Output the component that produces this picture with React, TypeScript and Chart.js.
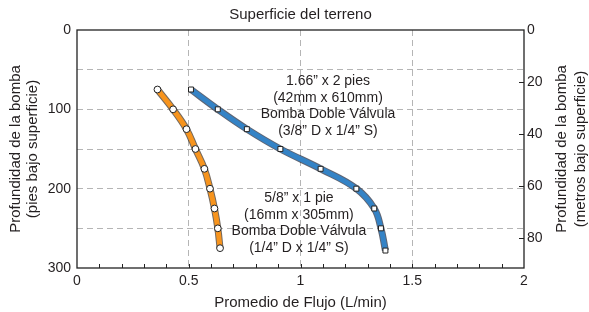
import React, { useEffect, useRef } from "react";
import { Chart, registerables } from "chart.js";

Chart.register(...registerables);

// ---- data ----
const FLOW_SMALL = [0.36, 0.43, 0.49, 0.53, 0.57, 0.595, 0.615, 0.63, 0.64];
const DEPTH_SMALL = [75, 100, 125, 150, 175, 200, 225, 250, 275];
const FLOW_LARGE = [0.51, 0.63, 0.76, 0.91, 1.09, 1.25, 1.33, 1.36, 1.38];
const DEPTH_LARGE = [75, 100, 125, 150, 175, 200, 225, 250, 278];

const X_TICKS = [0, 0.5, 1, 1.5, 2];
const Y_FT_TICKS = [0, 100, 200, 300];
const Y_M_TICKS = [0, 20, 40, 60, 80];

const TITLE = "Superficie del terreno";
const X_TITLE = "Promedio de Flujo (L/min)";
const Y_TITLE = ["Profundidad de la bomba", "(pies bajo superficie)"];
const Y2_TITLE = ["Profundidad de la bomba", "(metros bajo superficie)"];

const LABEL_LARGE = ["1.66\u201D x 2 pies", "(42mm x 610mm)", "Bomba Doble V\u00E1lvula", "(3/8\u201D D x 1/4\u201D S)"];
const LABEL_LARGE_AT = { flow: 1.123, depth: 64 };
const LABEL_SMALL = ["5/8\u201D x 1 pie", "(16mm x 305mm)", "Bomba Doble V\u00E1lvula", "(1/4\u201D D x 1/4\u201D S)"];
const LABEL_SMALL_AT = { flow: 0.993, depth: 211.5 };

const FT_PER_M = 1 / 0.3048;
const FONT = "'Liberation Sans', Arial, Helvetica, sans-serif";
const TEXT = "#231f20";

const toPts = (xs: number[], ys: number[]) => xs.map((x, i) => ({ x, y: ys[i] }));

const decor = {
  id: "decor",
  afterDraw(chart: any) {
    const ctx = chart.ctx;
    const { left, right, top, bottom } = chart.chartArea;
    const xs = chart.scales.x;
    const y2 = chart.scales.y2;
    const ys = chart.scales.y;
    ctx.save();
    // box
    ctx.strokeStyle = "#222";
    ctx.lineWidth = 1.3;
    ctx.strokeRect(left, top, right - left, bottom - top);
    // minor ticks on x (every 0.1), inward
    ctx.lineWidth = 1;
    for (let i = 1; i < 20; i++) {
      const px = Math.round(xs.getPixelForValue(i / 10)) + 0.5;
      ctx.beginPath();
      ctx.moveTo(px, bottom);
      ctx.lineTo(px, bottom - 4);
      ctx.stroke();
    }
    // right axis ticks inward
    for (const v of Y_M_TICKS) {
      if (v === 0) continue;
      const py = Math.round(y2.getPixelForValue(v)) + 0.5;
      ctx.beginPath();
      ctx.moveTo(right, py);
      ctx.lineTo(right - 5, py);
      ctx.stroke();
    }
    ctx.fillStyle = TEXT;
    ctx.textAlign = "center";
    ctx.textBaseline = "middle";
    ctx.font = `15px ${FONT}`;
    const cx = (left + right) / 2;
    const cy = (top + bottom) / 2;
    ctx.fillText(TITLE, cx, top - 15);
    ctx.fillText(X_TITLE, cx, bottom + 35);
    // left title
    ctx.save();
    ctx.translate(left - 61, cy);
    ctx.rotate(-Math.PI / 2);
    ctx.fillText(Y_TITLE[0], 0, 0);
    ctx.fillText(Y_TITLE[1], 0, 17);
    ctx.restore();
    // right title (same orientation as the left one)
    ctx.save();
    ctx.translate(right + 38, cy);
    ctx.rotate(-Math.PI / 2);
    ctx.fillText(Y2_TITLE[0], 0, 0);
    ctx.fillText(Y2_TITLE[1], 0, 19);
    ctx.restore();
    // series labels
    ctx.font = `14px ${FONT}`;
    const drawLabel = (lines: string[], at: { flow: number; depth: number }) => {
      const lx = xs.getPixelForValue(at.flow);
      const ly = ys.getPixelForValue(at.depth);
      lines.forEach((t, i) => ctx.fillText(t, lx, ly + i * 16.9));
    };
    drawLabel(LABEL_LARGE, LABEL_LARGE_AT);
    drawLabel(LABEL_SMALL, LABEL_SMALL_AT);
    ctx.restore();
  },
};

const gridColor = (lo: number, hi: number) => (c: any) =>
  c.tick && c.tick.value > lo && c.tick.value < hi ? "#b5b5b5" : "rgba(0,0,0,0)";

export default function App() {
  const ref = useRef<HTMLCanvasElement | null>(null);
  useEffect(() => {
    if (!ref.current) return;
    const tickFont = { family: FONT, size: 14 };
    const chart = new Chart(ref.current, {
      type: "scatter",
      data: {
        datasets: [
          {
            data: toPts(FLOW_SMALL, DEPTH_SMALL),
            showLine: true,
            borderColor: "#F7941D",
            borderWidth: 5,
            tension: 0.4,
            pointStyle: "circle",
            pointRadius: 3.4,
            pointBackgroundColor: "#fff",
            pointBorderColor: "#222",
            pointBorderWidth: 1,
            order: 1,
          },
          {
            data: toPts(FLOW_LARGE, DEPTH_LARGE),
            showLine: true,
            borderColor: "#3483C6",
            borderWidth: 5,
            tension: 0.4,
            pointStyle: "rect",
            pointRadius: 3.5,
            pointBackgroundColor: "#fff",
            pointBorderColor: "#222",
            pointBorderWidth: 1,
            order: 1,
          },
          {
            data: toPts(FLOW_SMALL, DEPTH_SMALL),
            showLine: true,
            borderColor: "rgba(70,55,40,0.75)",
            borderWidth: 7,
            tension: 0.4,
            pointRadius: 0,
            order: 2,
          },
          {
            data: toPts(FLOW_LARGE, DEPTH_LARGE),
            showLine: true,
            borderColor: "rgba(40,50,70,0.75)",
            borderWidth: 7,
            tension: 0.4,
            pointRadius: 0,
            order: 2,
          },
        ],
      },
      options: {
        responsive: false,
        animation: false,
        layout: { padding: { top: 30, left: 0, right: 0, bottom: 0 } },
        plugins: { legend: { display: false }, tooltip: { enabled: false }, title: { display: false } },
        scales: {
          x: {
            type: "linear",
            min: X_TICKS[0],
            max: X_TICKS[X_TICKS.length - 1],
            afterBuildTicks: (s: any) => {
              s.ticks = X_TICKS.map((v) => ({ value: v }));
            },
            ticks: { font: tickFont, color: TEXT, padding: 5, maxRotation: 0, autoSkip: false, callback: (v: any) => String(v) },
            grid: { color: gridColor(0, 2), drawTicks: false, lineWidth: 1 },
            border: { display: false, dash: [6, 4] },
            afterFit: (s: any) => {
              s.height = 44;
            },
          },
          y: {
            type: "linear",
            reverse: true,
            min: 0,
            max: 300,
            afterBuildTicks: (s: any) => {
              s.ticks = [0, 50, 100, 150, 200, 250, 300].map((v) => ({ value: v }));
            },
            ticks: {
              font: tickFont,
              color: TEXT,
              padding: 6,
              autoSkip: false,
              callback: (v: any) => (Y_FT_TICKS.includes(v) ? String(v) : ""),
            },
            grid: { color: gridColor(0, 300), drawTicks: false, lineWidth: 1 },
            border: { display: false, dash: [6, 4] },
            afterFit: (s: any) => {
              s.width = 77;
            },
          },
          y2: {
            type: "linear",
            position: "right",
            reverse: true,
            min: 0,
            max: 300 / FT_PER_M,
            afterBuildTicks: (s: any) => {
              s.ticks = Y_M_TICKS.map((v) => ({ value: v }));
            },
            ticks: { font: tickFont, color: TEXT, padding: 3, autoSkip: false },
            grid: { drawOnChartArea: false, drawTicks: false },
            border: { display: false },
            afterFit: (s: any) => {
              s.width = 65;
            },
          },
        },
      },
      plugins: [decor],
    } as any);
    return () => chart.destroy();
  }, []);
  return (
    <div style={{ position: "absolute", left: 0, top: 0, width: 589, height: 312, background: "#fff" }}>
      <canvas ref={ref} width={589} height={312} style={{ display: "block" }} />
    </div>
  );
}
